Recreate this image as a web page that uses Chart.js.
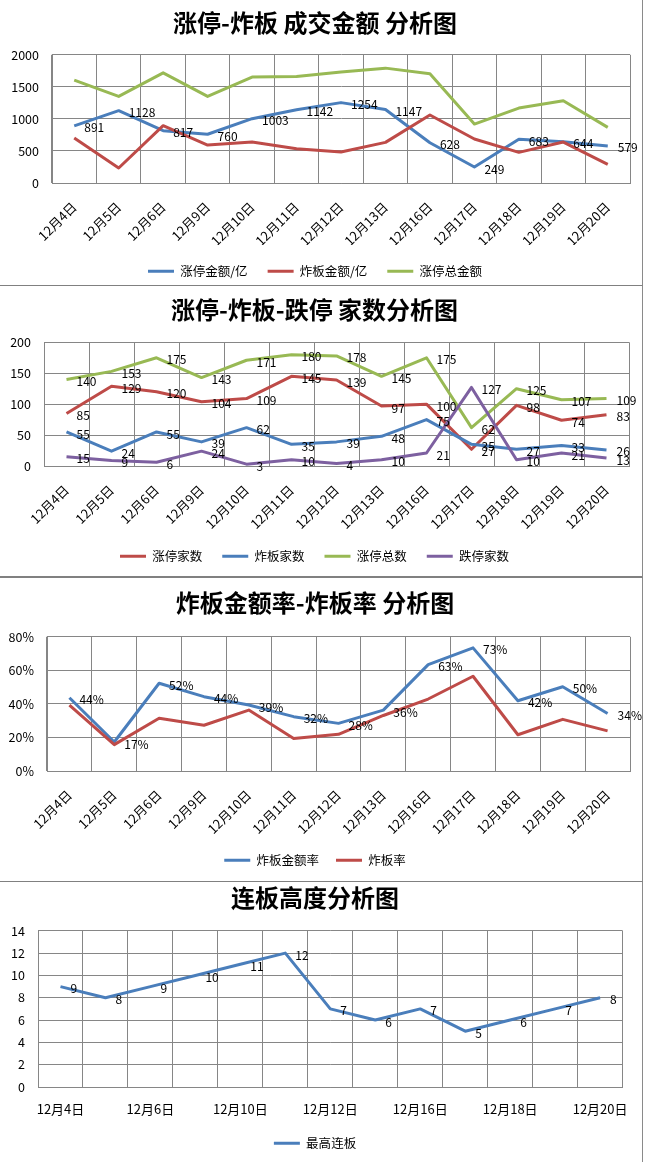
<!DOCTYPE html>
<html>
<head>
<meta charset="utf-8">
<script src="https://cdn.jsdelivr.net/npm/chart.js@4.4.1/dist/chart.umd.min.js"></script>
<style>
  body { margin: 0; background: #fff; }
  .panel { position: absolute; left: 0; width: 643px; box-sizing: border-box;
           border-right: 1px solid #8a8a8a; border-bottom: 1px solid #808080; background: #fff; }
  canvas { display: block; }
</style>
</head>
<body>
<div class="panel" style="top:0;height:286px"><canvas id="amount_chart" width="642" height="285"></canvas></div>
<div class="panel" style="top:286px;height:292px;border-bottom-width:2px"><canvas id="count_chart" width="642" height="290"></canvas></div>
<div class="panel" style="top:578px;height:304px"><canvas id="rate_chart" width="642" height="303"></canvas></div>
<div class="panel" style="top:882px;height:280px;border-bottom:none"><canvas id="height_chart" width="642" height="280"></canvas></div>
<script>
// dates on the x axis
var dates = ["12月4日", "12月5日", "12月6日", "12月9日", "12月10日", "12月11日", "12月12日",
             "12月13日", "12月16日", "12月17日", "12月18日", "12月19日", "12月20日"];

// chart 1: amounts (亿)
var zt_amount = [891, 1128, 817, 760, 1003, 1142, 1254, 1147, 628, 249, 683, 644, 579];
var zb_amount = [701, 234, 894, 592, 639, 535, 483, 634, 1060, 686, 478, 639, 291];
var zt_total_amount = [1605, 1351, 1719, 1351, 1652, 1662, 1730, 1792, 1704, 919, 1169, 1283, 868];

// chart 2: counts
var zt_count = [85, 129, 120, 104, 109, 145, 139, 97, 100, 27, 98, 74, 83];
var zb_count = [55, 24, 55, 39, 62, 35, 39, 48, 75, 35, 27, 33, 26];
var zt_total = [140, 153, 175, 143, 171, 180, 178, 145, 175, 62, 125, 107, 109];
var dt_count = [15, 9, 6, 24, 3, 10, 4, 10, 21, 127, 10, 21, 13];

// chart 3: rates in %
var zb_amount_rate = [43.7, 17.3, 52.3, 44.3, 39.3, 32.4, 28.4, 36.3, 63.4, 73.4, 41.9, 50.2, 34.3];
var zb_rate = [39.3, 15.7, 31.4, 27.3, 36.3, 19.4, 21.9, 33.1, 42.9, 56.5, 21.6, 30.8, 23.9];

// chart 4: highest streak
var max_streak = [9, 8, 9, 10, 11, 12, 7, 6, 7, 5, 6, 7, 8];

var BLUE = "#4A7EBB", RED = "#BE4B48", GREEN = "#98B954", PURPLE = "#7D60A0";
var GRID = "#868686";
var FONT = '"Noto Sans CJK SC", "Noto Sans", sans-serif';

Chart.defaults.font.family = FONT;
Chart.defaults.font.size = 12;
Chart.defaults.color = "#000";

// draws values to the right of each point, like excel's "right" label position
var valueLabels = {
    id: "valueLabels",
    afterDatasetsDraw: function(chart) {
        var ctx = chart.ctx;
        chart.data.datasets.forEach(function(ds, i) {
            if (!ds.showValues) return;
            var meta = chart.getDatasetMeta(i);
            ctx.save();
            ctx.font = "12px " + FONT;
            ctx.fillStyle = "#000";
            ctx.textAlign = "left";
            ctx.textBaseline = "middle";
            meta.data.forEach(function(pt, j) {
                var v = ds.data[j];
                var txt = ds.percent ? Math.round(v) + "%" : String(v);
                ctx.fillText(txt, pt.x + 10, pt.y + 2);
            });
            ctx.restore();
        });
    }
};

function line(label, data, color, showValues, n, i, percent) {
    return {
        label: label,
        data: data,
        borderColor: color,
        backgroundColor: color,
        borderWidth: 3,
        pointRadius: 0,
        tension: 0,
        fill: false,
        borderJoinStyle: "round",
        showValues: showValues,
        percent: percent,
        order: n - i
    };
}

function make_chart(id, cfg) {
    return new Chart(document.getElementById(id), {
        type: "line",
        data: { labels: dates, datasets: cfg.datasets },
        options: {
            responsive: false,
            animation: false,
            devicePixelRatio: 1,
            layout: { padding: { left: 0, right: cfg.padRight, top: 0, bottom: cfg.padBottom } },
            plugins: {
                title: {
                    display: true,
                    text: cfg.title,
                    color: "#000",
                    font: { size: 24, weight: "bold" },
                    padding: { top: cfg.titleTop, bottom: cfg.titleBottom }
                },
                legend: {
                    position: "bottom",
                    maxHeight: cfg.legendMax,
                    labels: {
                        usePointStyle: true,
                        pointStyle: "line",
                        pointStyleWidth: 26,
                        padding: cfg.legendPad,
                        color: "#000",
                        font: { size: 12.5 },
                        sort: function(a, b) { return a.datasetIndex - b.datasetIndex; }
                    }
                },
                tooltip: { enabled: false }
            },
            scales: {
                x: {
                    offset: true,
                    grid: { offset: true, color: GRID, drawTicks: false },
                    border: { color: GRID },
                    ticks: {
                        autoSkip: false,
                        minRotation: cfg.rotation,
                        maxRotation: cfg.rotation,
                        padding: cfg.xPad,
                        font: { size: 13 },
                        callback: cfg.xCallback || function(v) { return this.getLabelForValue(v); }
                    },
                    afterFit: function(s) { s.height = cfg.xHeight; }
                },
                y: {
                    min: 0,
                    max: cfg.yMax,
                    grid: { color: GRID, drawTicks: false },
                    border: { color: GRID },
                    ticks: {
                        stepSize: cfg.yStep,
                        padding: 13,
                        font: { size: 12.5 },
                        callback: cfg.yCallback || function(v) { return v; }
                    },
                    afterFit: function(s) { s.width = cfg.yWidth; }
                }
            }
        },
        plugins: [valueLabels]
    });
}

make_chart("amount_chart", {
    title: "涨停-炸板 成交金额 分析图",
    datasets: [
        line("涨停金额/亿", zt_amount, BLUE, true, 3, 0),
        line("炸板金额/亿", zb_amount, RED, false, 3, 1),
        line("涨停总金额", zt_total_amount, GREEN, false, 3, 2)
    ],
    yMax: 2000, yStep: 500, yWidth: 52,
    titleTop: 8, titleBottom: 18,
    padRight: 12, padBottom: 0,
    legendPad: 20, legendMax: 40,
    rotation: 45, xPad: 16, xHeight: 62
});

make_chart("count_chart", {
    title: "涨停-炸板-跌停 家数分析图",
    datasets: [
        line("涨停家数", zt_count, RED, true, 4, 0),
        line("炸板家数", zb_count, BLUE, true, 4, 1),
        line("涨停总数", zt_total, GREEN, true, 4, 2),
        line("跌停家数", dt_count, PURPLE, true, 4, 3)
    ],
    yMax: 200, yStep: 50, yWidth: 44,
    titleTop: 9, titleBottom: 18.5,
    padRight: 13, padBottom: 4,
    legendPad: 20, legendMax: 42,
    rotation: 45, xPad: 16, xHeight: 64
});

make_chart("rate_chart", {
    title: "炸板金额率-炸板率 分析图",
    datasets: [
        line("炸板金额率", zb_amount_rate, BLUE, true, 2, 0, true),
        line("炸板率", zb_rate, RED, false, 2, 1, true)
    ],
    yMax: 80, yStep: 10, yWidth: 47,
    yCallback: function(v) { return v + "%"; },
    titleTop: 10.5, titleBottom: 19.5,
    padRight: 12, padBottom: 5,
    legendPad: 17, legendMax: 39,
    rotation: 45, xPad: 16, xHeight: 66
});

make_chart("height_chart", {
    title: "连板高度分析图",
    datasets: [
        line("最高连板", max_streak, BLUE, true, 1, 0)
    ],
    yMax: 14, yStep: 2, yWidth: 38,
    titleTop: 1, titleBottom: 19,
    padRight: 12, padBottom: 3,
    legendPad: 19, legendMax: 41,
    rotation: 0, xPad: 14, xHeight: 31,
    xCallback: function(v, i) { return i % 2 === 0 ? this.getLabelForValue(v) : ""; }
});
</script>
</body>
</html>
